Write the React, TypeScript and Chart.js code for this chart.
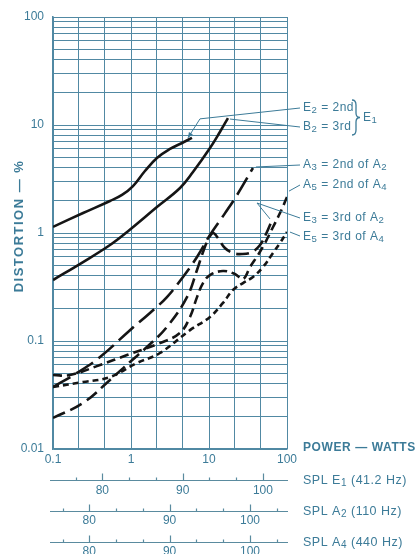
import React, { useEffect, useRef } from 'react';
import { Chart, registerables } from 'chart.js';

Chart.register(...registerables);

const TEAL = '#3c7b98';
const GRID = '#5189a3';
const INK = '#151515';
const FONT = '"Liberation Sans", "DejaVu Sans", sans-serif';

// Harmonic distortion (%) against amplifier power (W), one pair of arrays per curve
const e2Power = [0.1, 0.243, 0.538, 0.767, 1.06, 1.51, 2.15, 3.16, 4.51, 6.05];
const e2Distortion = [1.14, 1.53, 1.98, 2.25, 2.72, 3.75, 4.95, 6.0, 6.81, 7.6];

const b2Power = [0.1, 0.243, 0.538, 0.916, 2.15, 4.25, 6.23, 10.3, 13.8, 17.5];
const b2Distortion = [0.367, 0.538, 0.774, 1.04, 1.74, 2.61, 3.67, 6.12, 8.61, 11.6];

const a3Power = [0.1, 0.203, 0.401, 0.97, 1.75, 2.89, 4.64, 7.02, 10.3, 16.0, 22.9, 36.6];
const a3Distortion = [0.0375, 0.0506, 0.0711, 0.126, 0.182, 0.255, 0.392, 0.6, 0.958, 1.52, 2.25, 4.0];

const a5Power = [0.1, 0.165, 0.401, 0.889, 2.35, 4.25, 5.71, 7.02, 8.38, 10.3, 15.1, 21.5, 27.3, 33.6, 42.5, 52.2, 64.3, 81.3, 100];
const a5Distortion = [0.0484, 0.0484, 0.06, 0.0741, 0.0957, 0.119, 0.167, 0.255, 0.344, 0.408, 0.445, 0.417, 0.375, 0.484, 0.625, 0.807, 1.09, 1.53, 2.15];

const e3Power = [0.1, 0.243, 0.538, 0.97, 1.6, 2.89, 5.22, 7.02, 8.38, 9.7, 11.25, 13.0, 16.0, 20.3, 26.5, 35.6, 45.1, 53.8, 64.3];
const e3Distortion = [0.0194, 0.0267, 0.0436, 0.064, 0.0879, 0.135, 0.255, 0.454, 0.667, 0.861, 1.0, 0.9, 0.726, 0.653, 0.639, 0.667, 0.774, 0.98, 1.32];

const e5Power = [0.1, 0.243, 0.538, 1.19, 2.35, 5.71, 10.3, 15.1, 20.3, 27.3, 36.6, 49.2, 66.2, 81.3, 100];
const e5Distortion = [0.0375, 0.0417, 0.0464, 0.0625, 0.0774, 0.126, 0.167, 0.225, 0.297, 0.344, 0.392, 0.484, 0.653, 0.807, 1.02];

// Axis ticks and labels
const powerGridTicks = [0.1, 0.215, 0.464, 1, 2.15, 4.64, 10, 21.5, 46.4, 100];
const powerLabelValues = [0.1, 1, 10, 100];
const powerLabels = ['0.1', '1', '10', '100'];

const distortionDecades = [0.01, 0.1, 1, 10];
const distortionSteps = [1, 2, 3, 4, 5, 6, 7, 8, 9];
const distortionTop = 100;
const distortionLabelValues = [0.01, 0.1, 1, 10, 100];
const distortionLabels = ['0.01', '0.1', '1', '10', '100'];

// Sound-pressure-level scales (dB) under the power axis
const splE1Range = [73.85, 103.0];
const splA2Range = [75.5, 104.6];
const splA4Range = [75.5, 104.6];
const splE1Ticks = [76.7, 80, 83.3, 86.7, 90, 93.3, 96.7, 100];
const splA2Ticks = [76.7, 80, 83.3, 86.7, 90, 93.3, 96.7, 100, 103.3];
const splA4Ticks = [76.7, 80, 83.3, 86.7, 90, 93.3, 96.7, 100, 103.3];
const splMajor = [80, 90, 100];

const curveNotes = ['E₂ = 2nd', 'B₂ = 3rd', 'A₃ = 2nd of A₂', 'A₅ = 2nd of A₄', 'E₃ = 3rd of A₂', 'E₅ = 3rd of A₄'];
const groupNote = 'E₁';
const axisTitles = ['POWER — WATTS', 'SPL E₁ (41.2 Hz)', 'SPL A₂ (110 Hz)', 'SPL A₄ (440 Hz)'];
const distortionTitle = 'DISTORTION — %';

const SUBS = '₀₁₂₃₄₅₆₇₈₉';

function drawRich(ctx: CanvasRenderingContext2D, text: string, x: number, y: number, size: number, weight: string, spacing: number) {
  const runs: { t: string; sub: boolean }[] = [];
  for (const ch of text) {
    const i = SUBS.indexOf(ch);
    const sub = i >= 0;
    const c = sub ? String(i) : ch;
    const last = runs[runs.length - 1];
    if (last && last.sub === sub) last.t += c;
    else runs.push({ t: c, sub });
  }
  let cx = x;
  ctx.textAlign = 'left';
  ctx.textBaseline = 'middle';
  for (const r of runs) {
    const fs = r.sub ? size * 0.8 : size;
    ctx.font = `${weight} ${fs}px ${FONT}`;
    (ctx as any).letterSpacing = `${spacing}px`;
    ctx.fillText(r.t, cx, r.sub ? y + size * 0.2 : y);
    cx += ctx.measureText(r.t).width;
  }
  (ctx as any).letterSpacing = '0px';
  return cx;
}

function labelFor(values: number[], labels: string[], v: number) {
  const i = values.findIndex((t) => Math.abs(t - v) / t < 1e-6);
  return i >= 0 ? labels[i] : '';
}

function pairs(xs: number[], ys: number[]) {
  return xs.map((x, i) => ({ x, y: ys[i] }));
}

function curve(label: string, xs: number[], ys: number[], dash: number[], width: number) {
  return {
    label,
    data: pairs(xs, ys),
    borderColor: INK,
    borderWidth: width,
    borderDash: dash,
    borderCapStyle: 'butt' as const,
    pointRadius: 0,
    fill: false,
    tension: 0.4,
  };
}

const annotations = {
  id: 'annotations',
  afterDraw(chart: any) {
    const { ctx, chartArea: ca, scales } = chart;
    const xs = scales.x;
    const ys = scales.y;
    const at = (p: number[], d: number[]) => [xs.getPixelForValue(p[p.length - 1]), ys.getPixelForValue(d[d.length - 1])];
    const tx = ca.right + 16;
    ctx.save();

    // SPL scales: base line with upward ticks
    ctx.strokeStyle = '#5a8b9f';
    ctx.lineWidth = 1.2;
    for (const id of ['splE1', 'splA2', 'splA4']) {
      const s = scales[id];
      const yy = Math.round(s.top) + 0.5;
      ctx.beginPath();
      ctx.moveTo(ca.left - 3, yy);
      ctx.lineTo(ca.right + 1, yy);
      for (const t of s.ticks) {
        const xx = Math.round(s.getPixelForValue(t.value)) + 0.5;
        const len = splMajor.includes(t.value) ? 7 : 3;
        ctx.moveTo(xx, yy);
        ctx.lineTo(xx, yy - len);
      }
      ctx.stroke();
    }

    ctx.fillStyle = TEAL;
    // axis titles on the right
    drawRich(ctx, axisTitles[0], tx, 448, 12, 'bold', 0.6);
    drawRich(ctx, axisTitles[1], tx, scales.splE1.top + 1, 12.5, 'normal', 0.5);
    drawRich(ctx, axisTitles[2], tx, scales.splA2.top + 1, 12.5, 'normal', 0.5);
    drawRich(ctx, axisTitles[3], tx, scales.splA4.top + 1, 12.5, 'normal', 0.5);

    // vertical title
    ctx.save();
    ctx.translate(19.5, 226);
    ctx.rotate(-Math.PI / 2);
    ctx.textAlign = 'center';
    ctx.textBaseline = 'middle';
    ctx.font = `bold 13px ${FONT}`;
    (ctx as any).letterSpacing = '1.5px';
    ctx.fillText(distortionTitle, 0, 0);
    (ctx as any).letterSpacing = '0px';
    ctx.restore();

    // curve notes
    const noteY = [108, 127, 165, 185, 218, 237];
    curveNotes.forEach((t, i) => drawRich(ctx, t, tx, noteY[i], 12, 'normal', 0.5));
    drawRich(ctx, groupNote, tx + 60, 118, 12, 'normal', 0.5);

    // brace around the E1 pair
    ctx.strokeStyle = TEAL;
    ctx.lineWidth = 1.3;
    const bx = tx + 52;
    ctx.beginPath();
    ctx.moveTo(bx - 3, 100);
    ctx.quadraticCurveTo(bx + 1, 100, bx + 1, 105);
    ctx.lineTo(bx + 1, 113);
    ctx.quadraticCurveTo(bx + 1, 117.5, bx + 5, 117.5);
    ctx.quadraticCurveTo(bx + 1, 117.5, bx + 1, 122);
    ctx.lineTo(bx + 1, 130);
    ctx.quadraticCurveTo(bx + 1, 135, bx - 3, 135);
    ctx.stroke();

    // leader lines
    ctx.lineWidth = 1;
    const seg = (pts: number[][]) => {
      ctx.beginPath();
      ctx.moveTo(pts[0][0], pts[0][1]);
      for (let i = 1; i < pts.length; i++) ctx.lineTo(pts[i][0], pts[i][1]);
      ctx.stroke();
    };
    const lx = tx - 3;
    const e2 = at(e2Power, e2Distortion);
    const tip = [e2[0] - 4, e2[1]];
    const elbow = [e2[0] + 8, e2[1] - 19];
    seg([tip, elbow, [lx, 108]]);
    const ang = Math.atan2(tip[1] - elbow[1], tip[0] - elbow[0]);
    ctx.beginPath();
    ctx.moveTo(tip[0], tip[1]);
    ctx.lineTo(tip[0] - 6 * Math.cos(ang - 0.4), tip[1] - 6 * Math.sin(ang - 0.4));
    ctx.lineTo(tip[0] - 6 * Math.cos(ang + 0.4), tip[1] - 6 * Math.sin(ang + 0.4));
    ctx.closePath();
    ctx.fill();

    const b2 = at(b2Power, b2Distortion);
    seg([[b2[0] + 2, b2[1] + 1], [lx, 127]]);
    const a3 = at(a3Power, a3Distortion);
    seg([[a3[0] + 3, a3[1] - 1], [lx, 165]]);
    const a5 = at(a5Power, a5Distortion);
    seg([[a5[0] + 2, a5[1] - 6], [lx, 185]]);
    const e3 = at(e3Power, e3Distortion);
    seg([[lx, 218], [ca.right - 30, 203], [e3[0] - 2, e3[1] - 1]]);
    const e5 = at(e5Power, e5Distortion);
    seg([[e5[0] + 3, e5[1]], [lx, 236]]);

    ctx.restore();
  },
};

function fixHeight(h: number) {
  return (scale: any) => {
    scale.height = h;
  };
}

function splScale(range: number[], ticks: number[], weight: number, height: number, pad: number) {
  return {
    type: 'linear' as const,
    axis: 'x' as const,
    position: 'bottom' as const,
    weight,
    min: range[0],
    max: range[1],
    grid: { display: false, drawTicks: false },
    border: { display: false },
    afterBuildTicks: (scale: any) => {
      scale.ticks = ticks.map((value) => ({ value }));
    },
    afterFit: fixHeight(height),
    ticks: {
      autoSkip: false,
      maxRotation: 0,
      padding: pad,
      color: TEAL,
      font: { size: 12, family: FONT },
      callback: (v: number) => (splMajor.includes(v) ? String(v) : ''),
    },
  };
}

export default function App() {
  const ref = useRef<HTMLCanvasElement>(null);

  useEffect(() => {
    const yTicks: number[] = [];
    distortionDecades.forEach((d) => distortionSteps.forEach((s) => yTicks.push(d * s)));
    yTicks.push(distortionTop);

    const chart = new Chart(ref.current as HTMLCanvasElement, {
      type: 'line',
      data: {
        datasets: [
          curve('E2 = 2nd', e2Power, e2Distortion, [], 2.6),
          curve('B2 = 3rd', b2Power, b2Distortion, [], 2.6),
          curve('A3 = 2nd of A2', a3Power, a3Distortion, [20, 7], 2.6),
          curve('A5 = 2nd of A4', a5Power, a5Distortion, [9, 5], 2.6),
          curve('E3 = 3rd of A2', e3Power, e3Distortion, [13, 6], 2.6),
          curve('E5 = 3rd of A4', e5Power, e5Distortion, [6, 4], 2.6),
        ],
      },
      options: {
        animation: false,
        responsive: false,
        events: [],
        layout: { padding: { left: 0, top: 17, right: 131, bottom: 0 } },
        plugins: { legend: { display: false }, tooltip: { enabled: false } },
        scales: {
          x: {
            type: 'logarithmic',
            position: 'bottom',
            weight: 0,
            min: 0.1,
            max: 100,
            grid: { color: GRID, lineWidth: 1, drawTicks: false },
            border: { display: true, color: GRID, width: 1.6 },
            afterBuildTicks: (scale: any) => {
              scale.ticks = powerGridTicks.map((value) => ({ value }));
            },
            afterFit: fixHeight(31),
            ticks: {
              autoSkip: false,
              maxRotation: 0,
              padding: 3,
              color: TEAL,
              font: { size: 12, family: FONT },
              callback: (v: any) => labelFor(powerLabelValues, powerLabels, Number(v)),
            },
          },
          splE1: splScale(splE1Range, splE1Ticks, 1, 31, 3),
          splA2: splScale(splA2Range, splA2Ticks, 2, 31, 2),
          splA4: splScale(splA4Range, splA4Ticks, 3, 12, 2),
          y: {
            type: 'logarithmic',
            position: 'left',
            min: 0.01,
            max: 100,
            grid: { color: GRID, lineWidth: 1, drawTicks: false },
            border: { display: true, color: GRID, width: 1.6 },
            afterBuildTicks: (scale: any) => {
              scale.ticks = yTicks.map((value) => ({ value }));
            },
            afterFit: (scale: any) => {
              scale.width = 53;
            },
            ticks: {
              autoSkip: false,
              padding: 9,
              color: TEAL,
              font: { size: 12, family: FONT },
              callback: (v: any) => labelFor(distortionLabelValues, distortionLabels, Number(v)),
            },
          },
        },
      } as any,
      plugins: [annotations],
    });
    return () => chart.destroy();
  }, []);

  return (
    <div style={{ position: 'fixed', left: 0, top: 0, width: 418, height: 554, overflow: 'hidden', background: '#ffffff' }}>
      <canvas ref={ref} width={418} height={554} style={{ display: 'block' }} />
    </div>
  );
}
